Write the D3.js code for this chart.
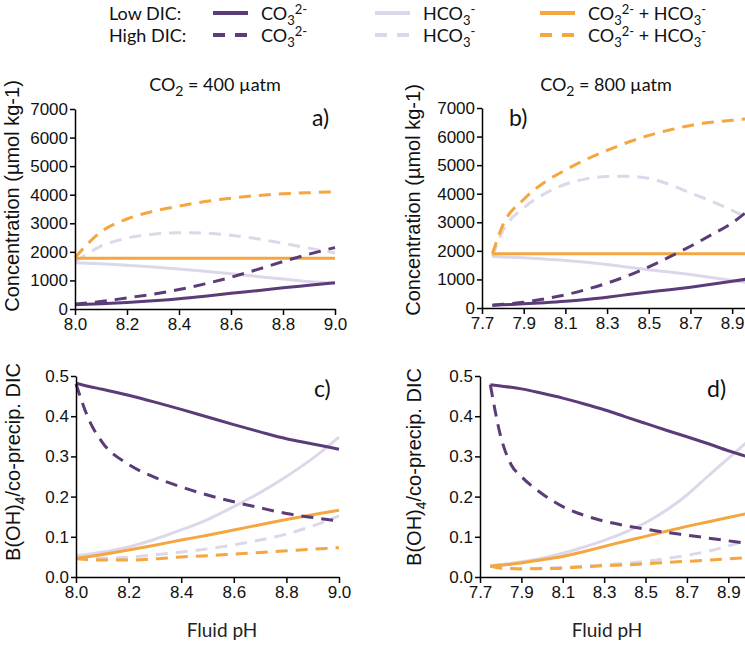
<!DOCTYPE html>
<html>
<head>
<meta charset="utf-8">
<script src="https://cdn.jsdelivr.net/npm/d3@7"></script>
<style>
  body { margin: 0; background: #fff; }
  svg { display: block; }
</style>
</head>
<body>
<svg id="chart" width="745" height="645"></svg>
<script>
// ---- data ----
// panel a : CO2 = 400 uatm, concentration (umol/kg)
var phA = [8.0, 8.1, 8.2, 8.3, 8.4, 8.5, 8.6, 8.7, 8.8, 8.9, 9.0];
var lowCO3A = [150, 185, 230, 290, 360, 450, 550, 640, 740, 830, 920];
var lowHCO3A = [1620, 1580, 1530, 1470, 1400, 1320, 1230, 1140, 1050, 960, 900];
var lowSumA = [1780, 1780, 1780, 1780, 1780, 1780, 1780, 1780, 1780, 1780, 1780];
var highCO3A = [170, 260, 390, 520, 680, 880, 1110, 1380, 1660, 1920, 2150];
var highHCO3A = [1650, 2200, 2480, 2620, 2670, 2660, 2580, 2460, 2300, 2130, 1960];
var highSumA = [1800, 2700, 3150, 3420, 3600, 3760, 3880, 3970, 4030, 4070, 4100];

// panel b : CO2 = 800 uatm
var phB = [7.75, 7.8, 7.9, 8.0, 8.1, 8.2, 8.3, 8.4, 8.5, 8.6, 8.7, 8.8, 8.9, 9.0];
var lowCO3B = [100, 115, 145, 185, 235, 300, 380, 470, 560, 640, 730, 830, 940, 1040];
var lowHCO3B = [1800, 1785, 1755, 1715, 1665, 1600, 1520, 1430, 1340, 1260, 1170, 1070, 960, 860];
var lowSumB = [1900, 1900, 1900, 1900, 1900, 1900, 1900, 1900, 1900, 1900, 1900, 1900, 1900, 1900];
var highCO3B = [100, 130, 200, 320, 460, 650, 870, 1130, 1440, 1790, 2160, 2560, 2980, 3550];
var highHCO3B = [1800, 2700, 3500, 4000, 4330, 4520, 4600, 4610, 4540, 4320, 4030, 3740, 3420, 3050];
var highSumB = [1900, 2900, 3800, 4400, 4830, 5200, 5520, 5800, 6040, 6230, 6390, 6500, 6570, 6640];

// panel c : B(OH)4 / co-precip. DIC, CO2 = 400
var phC = [8.0, 8.05, 8.1, 8.2, 8.3, 8.4, 8.5, 8.6, 8.7, 8.8, 8.9, 9.0];
var lowCO3C = [0.482, 0.474, 0.467, 0.452, 0.435, 0.417, 0.398, 0.379, 0.361, 0.344, 0.331, 0.318];
var highCO3C = [0.48, 0.39, 0.335, 0.28, 0.248, 0.224, 0.204, 0.187, 0.172, 0.158, 0.148, 0.139];
var lowHCO3C = [0.052, 0.057, 0.062, 0.075, 0.094, 0.117, 0.143, 0.175, 0.21, 0.25, 0.295, 0.348];
var highHCO3C = [0.052, 0.049, 0.047, 0.049, 0.055, 0.062, 0.070, 0.080, 0.092, 0.107, 0.127, 0.152];
var lowSumC = [0.046, 0.051, 0.056, 0.067, 0.079, 0.092, 0.104, 0.117, 0.130, 0.143, 0.155, 0.166];
var highSumC = [0.046, 0.043, 0.042, 0.042, 0.045, 0.050, 0.053, 0.057, 0.061, 0.065, 0.069, 0.073];

// panel d : CO2 = 800
var phD = [7.75, 7.8, 7.85, 7.9, 8.0, 8.1, 8.2, 8.3, 8.4, 8.5, 8.6, 8.7, 8.8, 8.9, 9.0];
var lowCO3D = [0.478, 0.475, 0.472, 0.468, 0.457, 0.445, 0.431, 0.416, 0.399, 0.382, 0.365, 0.349, 0.332, 0.314, 0.298];
var highCO3D = [0.478, 0.35, 0.28, 0.25, 0.207, 0.175, 0.154, 0.139, 0.128, 0.119, 0.111, 0.104, 0.097, 0.09, 0.083];
var lowHCO3D = [0.028, 0.031, 0.034, 0.038, 0.047, 0.059, 0.074, 0.091, 0.111, 0.135, 0.166, 0.204, 0.25, 0.295, 0.340];
var highHCO3D = [0.028, 0.023, 0.022, 0.021, 0.022, 0.024, 0.027, 0.030, 0.034, 0.039, 0.046, 0.054, 0.064, 0.077, 0.094];
var lowSumD = [0.027, 0.029, 0.032, 0.035, 0.043, 0.051, 0.063, 0.076, 0.089, 0.101, 0.114, 0.126, 0.137, 0.148, 0.159];
var highSumD = [0.027, 0.022, 0.021, 0.020, 0.021, 0.022, 0.025, 0.028, 0.030, 0.033, 0.036, 0.039, 0.042, 0.045, 0.048];

// ticks
var concTicks = [0, 1000, 2000, 3000, 4000, 5000, 6000, 7000];
var ratioTicks = [0, 0.1, 0.2, 0.3, 0.4, 0.5];
var phTicks400 = [8.0, 8.2, 8.4, 8.6, 8.8, 9.0];
var phTicks800 = [7.7, 7.9, 8.1, 8.3, 8.5, 8.7, 8.9];

var purple = "#5b3c78",
    lavender = "#dcd8ea",
    orange = "#f4a641";
var dash = "12,8";
var tickFont = "'Liberation Sans', Arial, sans-serif";
var textFont = "Lato, 'Noto Sans', sans-serif";

var svg = d3.select("#chart");

// writes text made of normal / sub / super pieces
function richText(t, parts, small, up) {
    var shift = 0;
    up = up || 7;
    parts.forEach(function (p) {
        var target = p[1] == "sub" ? 5 : (p[1] == "sup" ? -up : 0);
        var ts = t.append("tspan").attr("dy", target - shift).text(p[0]);
        if (p[1] != "n") ts.attr("font-size", small);
        shift = target;
    });
}

function panel(o) {
    var x = d3.scaleLinear().domain(o.xDomain).range(o.xRange);
    var y = d3.scaleLinear().domain(o.yDomain).range(o.yRange);

    var g = svg.append("g");

    var line = d3.line()
        .curve(d3.curveMonotoneX)
        .x(d => x(d.ph))
        .y(d => y(d.v));

    o.series.forEach(function (s) {
        var pts = o.ph.map((p, i) => ({ ph: p, v: s.v[i] }));
        g.append("path")
            .datum(pts)
            .attr("fill", "none")
            .attr("stroke", s.color)
            .attr("stroke-width", 3)
            .attr("stroke-dasharray", s.dashed ? dash : null)
            .attr("d", line);
    });

    var gx = g.append("g")
        .attr("transform", "translate(0," + o.yRange[0] + ")")
        .call(d3.axisBottom(x).tickValues(o.xTicks).tickFormat(d3.format(".1f"))
            .tickSize(6).tickPadding(3).tickSizeOuter(0));
    var gy = g.append("g")
        .attr("transform", "translate(" + o.xRange[0] + ",0)")
        .call(d3.axisLeft(y).tickValues(o.yTicks).tickFormat(o.yFormat)
            .tickSize(5).tickPadding(2).tickSizeOuter(0));

    [gx, gy].forEach(function (a) {
        a.select(".domain").attr("stroke", "#000").attr("stroke-width", 1.5);
        a.selectAll(".tick line").attr("stroke", "#000").attr("stroke-width", 1.5);
        a.selectAll(".tick text")
            .attr("font-family", tickFont)
            .attr("font-size", 17)
            .attr("fill", "#111");
    });

    // panel letter
    svg.append("text")
        .attr("x", o.letterPos[0]).attr("y", o.letterPos[1])
        .attr("font-family", textFont).attr("font-size", 23)
        .attr("fill", "#111")
        .text(o.letter);

    // y title
    var yt = svg.append("text")
        .attr("transform", "translate(" + o.yTitlePos[0] + "," + o.yTitlePos[1] + ") rotate(-90)")
        .attr("text-anchor", "middle")
        .attr("font-family", tickFont).attr("font-size", 20)
        .attr("fill", "#111");
    richText(yt, o.yTitle, 14);
}

var fullSet = function (lc, lh, ls, hc, hh, hs) {
    return [
        { v: lh, color: lavender }, { v: hh, color: lavender, dashed: true },
        { v: ls, color: orange }, { v: hs, color: orange, dashed: true },
        { v: lc, color: purple }, { v: hc, color: purple, dashed: true }
    ];
};

var concTitle = [["Concentration (µmol kg-1)", "n"]];
var ratioTitle = [["B(OH)", "n"], ["4", "sub"], ["/co-precip. DIC", "n"]];

panel({
    ph: phA, series: fullSet(lowCO3A, lowHCO3A, lowSumA, highCO3A, highHCO3A, highSumA),
    xDomain: [8.0, 9.0], xRange: [75, 335], yDomain: [0, 7000], yRange: [309, 109],
    xTicks: phTicks400, yTicks: concTicks, yFormat: d3.format("d"),
    letter: "a)", letterPos: [312, 126], yTitle: concTitle, yTitlePos: [19, 196]
});
panel({
    ph: phB, series: fullSet(lowCO3B, lowHCO3B, lowSumB, highCO3B, highHCO3B, highSumB),
    xDomain: [7.7, 9.0], xRange: [482, 753], yDomain: [0, 7000], yRange: [308, 108],
    xTicks: phTicks800, yTicks: concTicks, yFormat: d3.format("d"),
    letter: "b)", letterPos: [509, 126], yTitle: concTitle, yTitlePos: [420, 200]
});
panel({
    ph: phC, series: fullSet(lowCO3C, lowHCO3C, lowSumC, highCO3C, highHCO3C, highSumC),
    xDomain: [8.0, 9.0], xRange: [76, 339], yDomain: [0, 0.5], yRange: [577, 376],
    xTicks: phTicks400, yTicks: ratioTicks, yFormat: d3.format(".1f"),
    letter: "c)", letterPos: [314, 397], yTitle: ratioTitle, yTitlePos: [20, 462]
});
panel({
    ph: phD, series: fullSet(lowCO3D, lowHCO3D, lowSumD, highCO3D, highHCO3D, highSumD),
    xDomain: [7.7, 9.0], xRange: [480, 749], yDomain: [0, 0.5], yRange: [577, 376],
    xTicks: phTicks800, yTicks: ratioTicks, yFormat: d3.format(".1f"),
    letter: "d)", letterPos: [707, 397], yTitle: ratioTitle, yTitlePos: [421, 467]
});

// column titles
[[215, "400"], [606, "800"]].forEach(function (c) {
    var t = svg.append("text")
        .attr("x", c[0]).attr("y", 91)
        .attr("text-anchor", "middle")
        .attr("font-family", textFont).attr("font-size", 18).attr("fill", "#111");
    richText(t, [["CO", "n"], ["2", "sub"], [" = " + c[1] + " µatm", "n"]], 14);
});

// x titles
[222, 607].forEach(function (cx) {
    svg.append("text")
        .attr("x", cx).attr("y", 637)
        .attr("text-anchor", "middle")
        .attr("font-family", textFont).attr("font-size", 19).attr("fill", "#222")
        .text("Fluid pH");
});

// legend
var co3 = [["CO", "n"], ["3", "sub"], ["2-", "sup"]];
var hco3 = [["HCO", "n"], ["3", "sub"], ["-", "sup"]];
var both = [["CO", "n"], ["3", "sub"], ["2-", "sup"], [" + HCO", "n"], ["3", "sub"], ["-", "sup"]];
var legendItems = [
    { x: 213, color: purple, label: co3 },
    { x: 375, color: lavender, label: hco3 },
    { x: 540, color: orange, label: both }
];
var legendRows = [{ name: "Low DIC:", y: 20, dashed: false }, { name: "High DIC:", y: 42, dashed: true }];

legendRows.forEach(function (r) {
    svg.append("text")
        .attr("x", 109).attr("y", r.y)
        .attr("font-family", textFont).attr("font-size", 18).attr("fill", "#111")
        .text(r.name);
    legendItems.forEach(function (it) {
        svg.append("line")
            .attr("x1", it.x).attr("x2", it.x + 35)
            .attr("y1", r.y - 7).attr("y2", r.y - 7)
            .attr("stroke", it.color).attr("stroke-width", 4)
            .attr("stroke-dasharray", r.dashed ? "12,10" : null);
        var t = svg.append("text")
            .attr("x", it.x + 48).attr("y", r.y)
            .attr("font-family", textFont).attr("font-size", 18).attr("fill", "#111");
        richText(t, it.label, 13, 6);
    });
});
</script>
</body>
</html>
